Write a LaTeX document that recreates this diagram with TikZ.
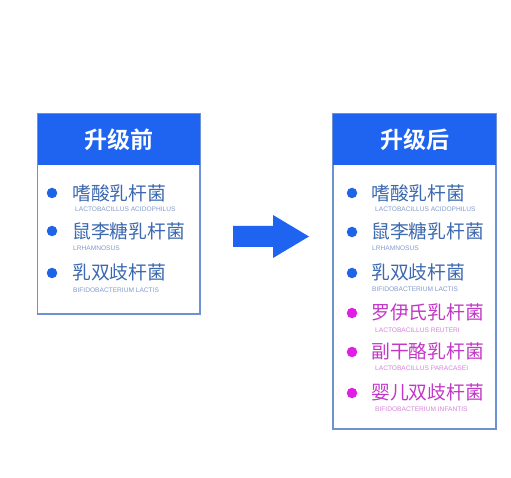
\documentclass[tikz,border=0pt]{standalone}
\usepackage{fontspec}
\setmainfont{Liberation Sans}
\newfontfamily\cjk{Noto Sans CJK SC}
\newfontfamily\cjkb{Noto Sans CJK SC Bold}
\definecolor{hdrblue}{RGB}{30,100,240}
\definecolor{bulblue}{RGB}{30,100,230}
\definecolor{txtblue}{RGB}{60,105,175}
\definecolor{subblue}{RGB}{130,155,205}
\definecolor{bulmag}{RGB}{225,30,230}
\definecolor{txtmag}{RGB}{195,55,200}
\definecolor{submag}{RGB}{215,130,220}
\definecolor{frame}{RGB}{110,145,210}
\begin{document}
\begin{tikzpicture}[x=1pt,y=-1pt,
  boxframe/.style={draw=frame,line width=1.2pt,fill=white},
  hdr/.style={fill=hdrblue},
  hdrtxt/.style={text=white,font=\cjkb\fontsize{23}{23}\selectfont,inner sep=0pt},
  cname/.style={anchor=west,inner sep=0pt,font=\cjk\fontsize{18.8}{18.8}\selectfont},
  ename/.style={anchor=west,inner sep=0pt,font=\fontsize{6.6}{6.6}\selectfont},
  dotb/.style={circle,fill=bulblue,minimum size=10.5pt,inner sep=0pt},
  dotm/.style={circle,fill=bulmag,minimum size=10.5pt,inner sep=0pt}]
\useasboundingbox[fill=white] (0,0) rectangle (511,478);
% left box
\draw[boxframe] (37.5,114) rectangle (200,314);
\fill[hdr] (37.5,114) rectangle (200,165);
\node[hdrtxt] (hl) at (118.75,140) {升级前};
\node[dotb] (l1) at (52,193) {};
\node[cname,text=txtblue] (lt1) at (72,193) {嗜酸乳杆菌};
\node[ename,text=subblue] (le1) at (75,209.5) {LACTOBACILLUS ACIDOPHILUS};
\node[dotb] (l2) at (52,231) {};
\node[cname,text=txtblue] (lt2) at (72,231) {鼠李糖乳杆菌};
\node[ename,text=subblue] (le2) at (73,248) {LRHAMNOSUS};
\node[dotb] (l3) at (52,273) {};
\node[cname,text=txtblue] (lt3) at (72,272) {乳双歧杆菌};
\node[ename,text=subblue] (le3) at (73,290) {BIFIDOBACTERIUM LACTIS};
% arrow
\fill[hdrblue] (233,226) -- (273,226) -- (273,215) -- (309,236.5) -- (273,258) -- (273,247) -- (233,247) -- cycle;
% right box
\draw[boxframe] (333,114) rectangle (496,429);
\fill[hdr] (333,114) rectangle (496,165);
\node[hdrtxt] (hr) at (414.5,140) {升级后};
\node[dotb] (r1) at (352,193) {};
\node[cname,text=txtblue] (rt1) at (371,193) {嗜酸乳杆菌};
\node[ename,text=subblue] (re1) at (375,209.5) {LACTOBACILLUS ACIDOPHILUS};
\node[dotb] (r2) at (352,232) {};
\node[cname,text=txtblue] (rt2) at (371,231) {鼠李糖乳杆菌};
\node[ename,text=subblue] (re2) at (372,248) {LRHAMNOSUS};
\node[dotb] (r3) at (352,273) {};
\node[cname,text=txtblue] (rt3) at (371,272) {乳双歧杆菌};
\node[ename,text=subblue] (re3) at (372,289.5) {BIFIDOBACTERIUM LACTIS};
\node[dotm] (r4) at (352,313) {};
\node[cname,text=txtmag] (rt4) at (371,312) {罗伊氏乳杆菌};
\node[ename,text=submag] (re4) at (375,330) {LACTOBACILLUS REUTERI};
\node[dotm] (r5) at (352,352) {};
\node[cname,text=txtmag] (rt5) at (371,351) {副干酪乳杆菌};
\node[ename,text=submag] (re5) at (375,368.5) {LACTOBACILLUS PARACASEI};
\node[dotm] (r6) at (352,393) {};
\node[cname,text=txtmag] (rt6) at (371,392) {婴儿双歧杆菌};
\node[ename,text=submag] (re6) at (375,409.5) {BIFIDOBACTERIUM INFANTIS};
\end{tikzpicture}
\end{document}
